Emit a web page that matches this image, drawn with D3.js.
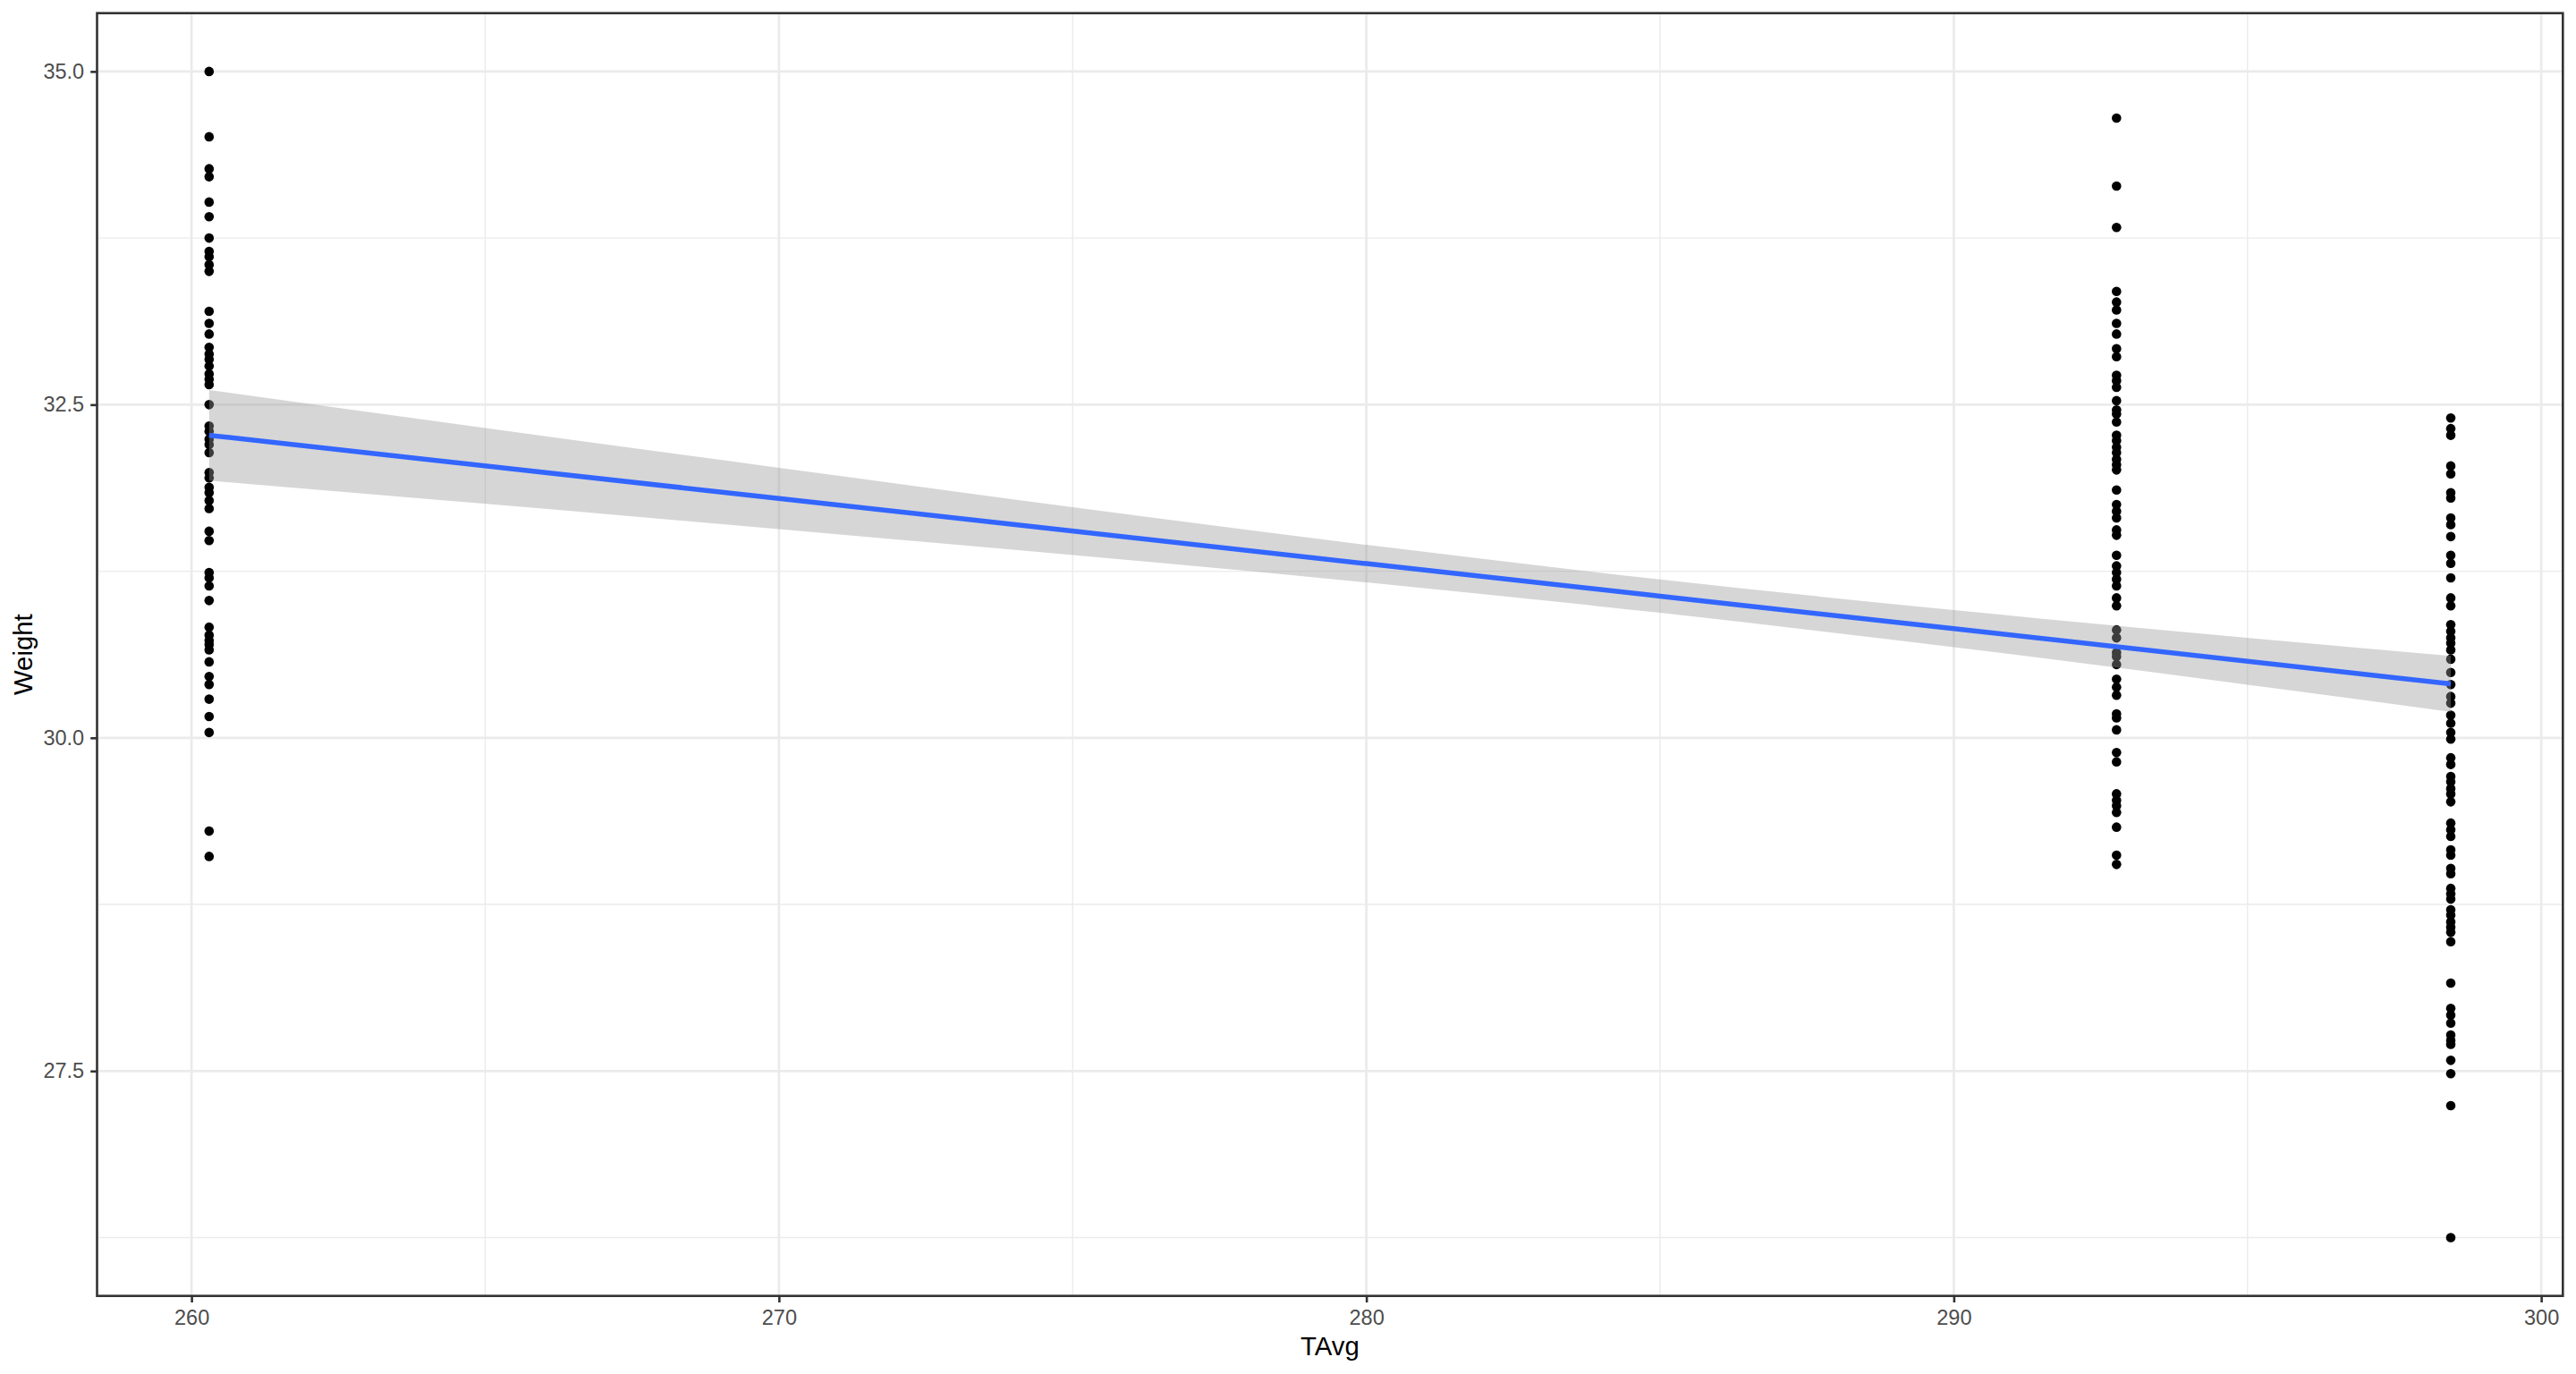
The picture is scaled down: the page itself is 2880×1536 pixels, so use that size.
<!DOCTYPE html>
<html>
<head>
<meta charset="utf-8">
<script src="https://cdn.jsdelivr.net/npm/d3@7"></script>
<style>
  html, body { margin: 0; padding: 0; background: #ffffff; }
  svg { display: block; }
  text { font-family: "Liberation Sans", Arial, sans-serif; }
</style>
</head>
<body>
<svg id="chart" width="2880" height="1536"></svg>
<script>
// ---- data ----
const groupTAvg = [260.30, 292.77, 298.46];

const weightsAt26030 = [35.0, 34.51, 34.27, 34.21, 34.02, 33.91, 33.75, 33.65, 33.61, 33.55,
  33.50, 33.20, 33.11, 33.03, 32.93, 32.88, 32.84, 32.79, 32.73, 32.69,
  32.65, 32.50, 32.34, 32.30, 32.24, 32.20, 32.14, 31.99, 31.95, 31.88,
  31.84, 31.78, 31.72, 31.55, 31.48, 31.24, 31.20, 31.14, 31.03, 30.83,
  30.77, 30.73, 30.70, 30.66, 30.57, 30.46, 30.40, 30.29, 30.16, 30.04,
  29.30, 29.11];

const weightsAt29277 = [34.65, 34.14, 33.83, 33.35, 33.27, 33.21, 33.11, 33.03, 32.92, 32.86,
  32.72, 32.68, 32.63, 32.53, 32.46, 32.43, 32.37, 32.27, 32.23, 32.18,
  32.14, 32.09, 32.05, 32.01, 31.86, 31.75, 31.70, 31.65, 31.56, 31.52,
  31.37, 31.29, 31.24, 31.19, 31.14, 31.05, 30.99, 30.81, 30.75, 30.64,
  30.61, 30.55, 30.44, 30.38, 30.32, 30.18, 30.15, 30.06, 29.89, 29.82,
  29.58, 29.53, 29.49, 29.44, 29.33, 29.12, 29.05];

const weightsAt29846 = [32.40, 32.32, 32.27, 32.04, 31.98, 31.84, 31.80, 31.65, 31.60, 31.51,
  31.37, 31.31, 31.20, 31.05, 30.99, 30.85, 30.80, 30.75, 30.71, 30.66,
  30.59, 30.49, 30.40, 30.31, 30.26, 30.17, 30.11, 30.04, 29.99, 29.85,
  29.80, 29.71, 29.67, 29.62, 29.58, 29.52, 29.36, 29.31, 29.26, 29.16,
  29.12, 29.02, 28.98, 28.87, 28.83, 28.79, 28.71, 28.67, 28.62, 28.58,
  28.54, 28.47, 28.16, 27.97, 27.92, 27.86, 27.77, 27.73, 27.70, 27.58,
  27.48, 27.24, 26.25];

// linear smooth (lm) with its 95% confidence band
const smoothTAvg  = [260.30, 270.0, 280.0, 285.0, 290.0, 298.46];
const smoothFit   = [32.270, 31.796, 31.307, 31.063, 30.819, 30.405];
const smoothLower = [31.930, 31.566, 31.166, 30.938, 30.680, 30.195];
const smoothUpper = [32.610, 32.026, 31.448, 31.188, 30.958, 30.615];

const xMajorTicks = [260, 270, 280, 290, 300];
const xMinorTicks = [265, 275, 285, 295];
const yMajorTicks = [27.5, 30.0, 32.5, 35.0];
const yMinorTicks = [26.25, 28.75, 31.25, 33.75];
const xTitle = "TAvg";
const yTitle = "Weight";

// ---- build points ----
const groups = [weightsAt26030, weightsAt29277, weightsAt29846];
const points = [];
groups.forEach((ws, i) => ws.forEach(w => points.push({ x: groupTAvg[i], y: w })));
const smooth = smoothTAvg.map((t, i) => ({ x: t, y: smoothFit[i], lo: smoothLower[i], hi: smoothUpper[i] }));

// ---- layout ----
const panel = { left: 108.5, top: 14.7, right: 2865.3, bottom: 1448.7 };

function expand(ext) {
  const d = ext[1] - ext[0];
  return [ext[0] - 0.05 * d, ext[1] + 0.05 * d];
}
const x = d3.scaleLinear().domain(expand(d3.extent(points, d => d.x))).range([panel.left, panel.right]);
const y = d3.scaleLinear().domain(expand(d3.extent(points, d => d.y))).range([panel.bottom, panel.top]);

// ---- draw ----
const svg = d3.select("#chart");
svg.append("rect").attr("width", 2880).attr("height", 1536).attr("fill", "#ffffff");

const grid = svg.append("g");
grid.selectAll(".xminor").data(xMinorTicks).join("line")
  .attr("x1", d => x(d)).attr("x2", d => x(d))
  .attr("y1", panel.top).attr("y2", panel.bottom)
  .attr("stroke", "#EBEBEB").attr("stroke-width", 1.4);
grid.selectAll(".yminor").data(yMinorTicks).join("line")
  .attr("y1", d => y(d)).attr("y2", d => y(d))
  .attr("x1", panel.left).attr("x2", panel.right)
  .attr("stroke", "#EBEBEB").attr("stroke-width", 1.4);
grid.selectAll(".xmajor").data(xMajorTicks).join("line")
  .attr("x1", d => x(d)).attr("x2", d => x(d))
  .attr("y1", panel.top).attr("y2", panel.bottom)
  .attr("stroke", "#EBEBEB").attr("stroke-width", 2.8);
grid.selectAll(".ymajor").data(yMajorTicks).join("line")
  .attr("y1", d => y(d)).attr("y2", d => y(d))
  .attr("x1", panel.left).attr("x2", panel.right)
  .attr("stroke", "#EBEBEB").attr("stroke-width", 2.8);

// points
svg.append("g").selectAll("circle").data(points).join("circle")
  .attr("cx", d => x(d.x)).attr("cy", d => y(d.y)).attr("r", 5.3)
  .attr("fill", "#000000");

// ribbon
svg.append("path").datum(smooth)
  .attr("d", d3.area().curve(d3.curveMonotoneX).x(d => x(d.x)).y0(d => y(d.lo)).y1(d => y(d.hi)))
  .attr("fill", "#999999").attr("fill-opacity", 0.4);

// line
svg.append("path").datum(smooth)
  .attr("d", d3.line().curve(d3.curveMonotoneX).x(d => x(d.x)).y(d => y(d.y)))
  .attr("fill", "none").attr("stroke", "#3366FF").attr("stroke-width", 5.5);

// panel border
svg.append("rect")
  .attr("x", panel.left).attr("y", panel.top)
  .attr("width", panel.right - panel.left).attr("height", panel.bottom - panel.top)
  .attr("fill", "none").attr("stroke", "#333333").attr("stroke-width", 2.6);

// axes
const xAxis = d3.axisBottom(x).tickValues(xMajorTicks).tickSize(7.3).tickPadding(8).tickFormat(d3.format("d"));
const gx = svg.append("g").attr("transform", `translate(0,${panel.bottom})`).call(xAxis);
gx.select(".domain").remove();
gx.selectAll(".tick line").attr("stroke", "#333333").attr("stroke-width", 2.6);
gx.selectAll(".tick text").attr("fill", "#4D4D4D").attr("font-size", 23.5)
  .attr("font-family", "'Liberation Sans', Arial, sans-serif");

const yAxis = d3.axisLeft(y).tickValues(yMajorTicks).tickSize(7.3).tickPadding(7).tickFormat(d3.format(".1f"));
const gy = svg.append("g").attr("transform", `translate(${panel.left},0)`).call(yAxis);
gy.select(".domain").remove();
gy.selectAll(".tick line").attr("stroke", "#333333").attr("stroke-width", 2.6);
gy.selectAll(".tick text").attr("fill", "#4D4D4D").attr("font-size", 23.5)
  .attr("font-family", "'Liberation Sans', Arial, sans-serif");

// titles
svg.append("text").text(xTitle)
  .attr("x", (panel.left + panel.right) / 2).attr("y", 1515)
  .attr("text-anchor", "middle").attr("font-size", 29.3).attr("fill", "#000000");
svg.append("text").text(yTitle)
  .attr("transform", `translate(36,${(panel.top + panel.bottom) / 2}) rotate(-90)`)
  .attr("text-anchor", "middle").attr("font-size", 29.3).attr("fill", "#000000");
</script>
</body>
</html>
